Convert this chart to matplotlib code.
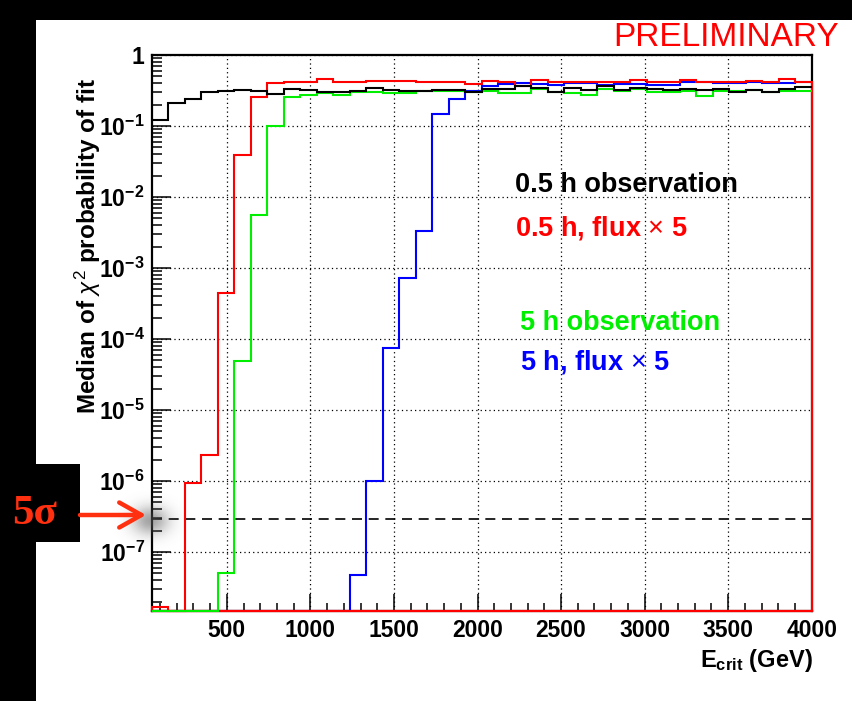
import numpy as np
import matplotlib
matplotlib.use("Agg")
import matplotlib.pyplot as plt
from matplotlib.patches import Rectangle
from matplotlib.ticker import FixedLocator, LogLocator, MultipleLocator, NullFormatter

plt.rcParams["font.family"] = ["Liberation Sans", "DejaVu Sans"]
plt.rcParams["mathtext.fontset"] = "custom"
plt.rcParams["mathtext.rm"] = "Liberation Sans"
plt.rcParams["mathtext.bf"] = "Liberation Sans:bold"
plt.rcParams["mathtext.it"] = "Liberation Sans:italic"

# ---------------- data ----------------
E_MIN, E_MAX, N_BINS = 50, 4000, 40
edges = np.linspace(E_MIN, E_MAX, N_BINS + 1)

obs_05h = [0.122, 0.214, 0.241, 0.299, 0.312, 0.319, 0.315, 0.286, 0.333, 0.322,
           0.305, 0.300, 0.310, 0.340, 0.325, 0.315, 0.315, 0.320, 0.320, 0.300,
           0.330, 0.333, 0.370, 0.340, 0.305, 0.340, 0.322, 0.370, 0.322, 0.348,
           0.333, 0.322, 0.333, 0.322, 0.330, 0.298, 0.322, 0.298, 0.330, 0.356]

obs_05h_flux5 = [1.7e-8, 0.0, 9.5e-7, 2.3e-6, 4.5e-4, 0.039, 0.26, 0.40, 0.41, 0.42,
                 0.46, 0.42, 0.42, 0.43, 0.43, 0.425, 0.42, 0.415, 0.41, 0.39,
                 0.43, 0.422, 0.368, 0.446, 0.413, 0.422, 0.422, 0.422, 0.422, 0.446,
                 0.413, 0.422, 0.446, 0.422, 0.422, 0.422, 0.437, 0.422, 0.455, 0.422]

obs_5h = [0.0, 0.0, 0.0, 0.0, 5.1e-8, 4.95e-5, 5.6e-3, 0.100, 0.257, 0.274,
          0.292, 0.274, 0.305, 0.305, 0.290, 0.290, 0.310, 0.310, 0.310, 0.300,
          0.310, 0.290, 0.290, 0.333, 0.298, 0.290, 0.274, 0.333, 0.312, 0.333,
          0.305, 0.305, 0.312, 0.268, 0.312, 0.312, 0.322, 0.298, 0.312, 0.312]

obs_5h_flux5 = [0.0, 0.0, 0.0, 0.0, 0.0, 0.0, 0.0, 0.0, 0.0, 0.0,
                0.0, 0.0, 4.8e-8, 1.0e-6, 7.5e-5, 7.2e-4, 3.3e-3, 0.146, 0.243, 0.310,
                0.367, 0.392, 0.400, 0.392, 0.372, 0.400, 0.400, 0.372, 0.392, 0.392,
                0.380, 0.380, 0.413, 0.413, 0.400, 0.400, 0.413, 0.400, 0.400, 0.413]

five_sigma = 2.87e-7
YMIN, YMAX = 1.5e-8, 1.0

x_ticks = [500, 1000, 1500, 2000, 2500, 3000, 3500, 4000]
x_tick_labels = ["500", "1000", "1500", "2000", "2500", "3000", "3500", "4000"]
y_ticks = [1e-7, 1e-6, 1e-5, 1e-4, 1e-3, 1e-2, 1e-1, 1.0]
y_tick_labels = [r"$\mathbf{10^{-7}}$", r"$\mathbf{10^{-6}}$", r"$\mathbf{10^{-5}}$",
                 r"$\mathbf{10^{-4}}$", r"$\mathbf{10^{-3}}$", r"$\mathbf{10^{-2}}$",
                 r"$\mathbf{10^{-1}}$", r"$\mathbf{1}$"]

legend_texts = ["0.5 h observation", "0.5 h, flux $\\times$ 5",
                "5 h observation", "5 h, flux $\\times$ 5"]
legend_colors = ["black", "#ff0000", "#00ee00", "#0000ff"]

# ---------------- figure ----------------
W, H = 852, 701
fig = plt.figure(figsize=(W / 100, H / 100), dpi=100, facecolor="black")
fig.patches.append(Rectangle((36 / W, 0), 1 - 36 / W, 1 - 20 / H,
                             transform=fig.transFigure, facecolor="white",
                             edgecolor="none", zorder=-5))

ax_l, ax_r, ax_t, ax_b = 151.7, 811.7, 55.0, 610.5
ax = fig.add_axes([ax_l / W, 1 - ax_b / H, (ax_r - ax_l) / W, (ax_b - ax_t) / H])
ax.set_facecolor("white")
ax.set_yscale("log")
ax.set_xlim(E_MIN, E_MAX)
ax.set_ylim(YMIN, YMAX)


def clamp(v):
    v = np.asarray(v, dtype=float)
    return np.where(v > 0, v, YMIN)


lw = 1.5
ax.stairs(clamp(obs_5h_flux5), edges, baseline=None, color="#0000ff", lw=lw, zorder=3)
ax.stairs(clamp(obs_05h_flux5), edges, baseline=YMIN, color="#ff0000", lw=lw, zorder=3.1,
          clip_on=False)
ax.plot([E_MIN, E_MAX], [YMIN, YMIN], color="#ff0000", lw=1.6, zorder=3.05, clip_on=False)
ax.stairs(clamp(obs_5h), edges, baseline=None, color="#00ee00", lw=lw, zorder=3.2,
          clip_on=False)
ax.stairs(clamp(obs_05h), edges, baseline=None, color="black", lw=lw, zorder=3.3)

ax.axhline(five_sigma, color="black", lw=1.2, ls=(0, (6, 4)), zorder=2.5)

ax.xaxis.set_major_locator(FixedLocator(x_ticks))
ax.set_xticklabels(x_tick_labels)
ax.xaxis.set_minor_locator(MultipleLocator(100))
ax.yaxis.set_major_locator(FixedLocator(y_ticks))
ax.set_yticklabels(y_tick_labels)
ax.yaxis.set_minor_locator(LogLocator(base=10, subs=np.arange(2, 10), numticks=30))
ax.yaxis.set_minor_formatter(NullFormatter())

ax.grid(True, which="major", color="black", lw=0.9, ls=(0, (1, 2.5)), zorder=1)
ax.set_axisbelow(True)

ax.tick_params(axis="both", which="both", direction="in", top=False, right=False,
               width=1.1, color="black")
ax.tick_params(axis="y", which="major", length=14, pad=5, labelsize=16.5)
ax.tick_params(axis="y", which="minor", length=7)
ax.tick_params(axis="x", which="major", length=12, pad=6, labelsize=16.5)
ax.tick_params(axis="x", which="minor", length=6)
for lab in ax.get_xticklabels():
    lab.set_fontweight("bold")
for s in ax.spines.values():
    s.set_linewidth(1.6)
    s.set_color("black")

# ---------------- overlay (pixel coordinates) ----------------
ov = fig.add_axes([0, 0, 1, 1], zorder=10)
ov.patch.set_alpha(0)
ov.axis("off")

# shadow around arrow tip
yy, xx = np.mgrid[0:100, 0:100]
r2 = ((xx - 50) / 18.0) ** 2 + ((yy - 50) / 14.0) ** 2
shadow = np.zeros((100, 100, 4))
shadow[..., :3] = 0.35
shadow[..., 3] = 0.55 * np.exp(-r2)
ov.imshow(shadow, extent=(100, 200, 570, 470), aspect="auto", zorder=1,
          interpolation="bilinear")

ov.add_patch(Rectangle((0, 464), 80, 78, facecolor="black", edgecolor="none", zorder=2))
ov.text(35, 514, "5σ", color="#ff3010", fontsize=31, fontweight="bold",
        family=["Liberation Serif", "DejaVu Serif"],
        ha="center", va="center", zorder=3)
ov.annotate("", xy=(146, 515), xytext=(80, 515), zorder=3,
            arrowprops=dict(arrowstyle="->,head_length=0.8,head_width=0.45",
                            color="#ff3010", lw=3.2, mutation_scale=20,
                            shrinkA=0, shrinkB=0))

ov.text(88, 78, r"Median of $\chi^{2}$ probability of fit", rotation=90,
        ha="center", va="top", fontsize=17.5, fontweight="bold", color="black")
ov.text(813, 667, r"E$_{\mathbf{crit}}$ (GeV)", ha="right", va="baseline",
        fontsize=17, fontweight="bold", color="black")

ov.text(839, 46, "PRELIMINARY", ha="right", va="baseline", color="#ff0000",
        fontsize=24)

legend_pos = [(515, 192), (515, 235), (520, 330), (520, 370)]
for (px, py), txt, col in zip(legend_pos, legend_texts, legend_colors):
    ov.text(px, py, txt, ha="left", va="baseline", color=col, fontsize=19.5,
            fontweight="bold")

ov.set_xlim(0, W)
ov.set_ylim(H, 0)

fig.savefig("out.png", dpi=100, facecolor=fig.get_facecolor())
